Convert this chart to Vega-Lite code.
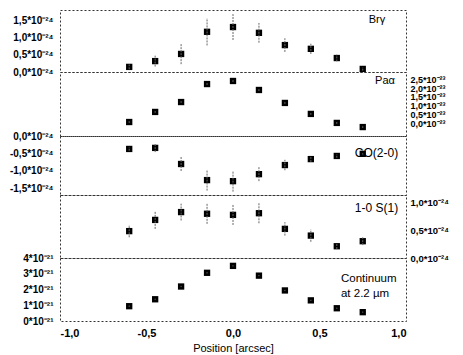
{
  "$schema": "https://vega.github.io/schema/vega-lite/v6.json",
  "padding": {"left": 8, "top": 9, "right": 0, "bottom": 0},
  "bounds": "flush",
  "spacing": 0,
  "config": {
    "view": {"stroke": "#333", "strokeDash": [2, 2], "strokeWidth": 1},
    "font": "Liberation Sans",
    "axis": {"labelFont": "Liberation Sans", "labelFontWeight": "bold", "labelFontSize": 10, "labelColor": "#000", "domain": false, "ticks": false, "grid": false, "labelOverlap": false, "labelBound": false}
  },
  "datasets": {
    "pts": [
      {"p": "Brg", "x": -0.6, "y": 0.15, "lo": 0.08, "hi": 0.22},
      {"p": "Brg", "x": -0.45, "y": 0.32, "lo": 0.16, "hi": 0.48},
      {"p": "Brg", "x": -0.3, "y": 0.53, "lo": 0.23, "hi": 0.83},
      {"p": "Brg", "x": -0.15, "y": 1.18, "lo": 0.78, "hi": 1.58},
      {"p": "Brg", "x": 0, "y": 1.32, "lo": 0.94, "hi": 1.7},
      {"p": "Brg", "x": 0.15, "y": 1.15, "lo": 0.86, "hi": 1.44},
      {"p": "Brg", "x": 0.3, "y": 0.79, "lo": 0.59, "hi": 0.99},
      {"p": "Brg", "x": 0.45, "y": 0.68, "lo": 0.53, "hi": 0.83},
      {"p": "Brg", "x": 0.6, "y": 0.41, "lo": 0.31, "hi": 0.51},
      {"p": "Brg", "x": 0.75, "y": 0.09, "lo": 0.04, "hi": 0.14},
      {"p": "Paa", "x": -0.6, "y": 0.11, "lo": 0.06, "hi": 0.16},
      {"p": "Paa", "x": -0.45, "y": 0.67, "lo": 0.62, "hi": 0.72},
      {"p": "Paa", "x": -0.3, "y": 1.22, "lo": 1.17, "hi": 1.27},
      {"p": "Paa", "x": -0.15, "y": 2.22, "lo": 2.17, "hi": 2.27},
      {"p": "Paa", "x": 0, "y": 2.39, "lo": 2.33, "hi": 2.45},
      {"p": "Paa", "x": 0.15, "y": 1.89, "lo": 1.83, "hi": 1.95},
      {"p": "Paa", "x": 0.3, "y": 1.17, "lo": 1.12, "hi": 1.22},
      {"p": "Paa", "x": 0.45, "y": 0.56, "lo": 0.51, "hi": 0.61},
      {"p": "Paa", "x": 0.6, "y": 0.06, "lo": 0.01, "hi": 0.11},
      {"p": "Paa", "x": 0.75, "y": -0.17, "lo": -0.22, "hi": -0.12},
      {"p": "CO", "x": -0.6, "y": -0.37, "lo": -0.42, "hi": -0.32},
      {"p": "CO", "x": -0.45, "y": -0.34, "lo": -0.46, "hi": -0.22},
      {"p": "CO", "x": -0.3, "y": -0.8, "lo": -1.0, "hi": -0.6},
      {"p": "CO", "x": -0.15, "y": -1.26, "lo": -1.56, "hi": -0.96},
      {"p": "CO", "x": 0, "y": -1.29, "lo": -1.59, "hi": -0.99},
      {"p": "CO", "x": 0.15, "y": -1.09, "lo": -1.29, "hi": -0.89},
      {"p": "CO", "x": 0.3, "y": -0.83, "lo": -0.98, "hi": -0.68},
      {"p": "CO", "x": 0.45, "y": -0.66, "lo": -0.74, "hi": -0.58},
      {"p": "CO", "x": 0.6, "y": -0.57, "lo": -0.62, "hi": -0.52},
      {"p": "CO", "x": 0.75, "y": -0.51, "lo": -0.55, "hi": -0.47},
      {"p": "S1", "x": -0.6, "y": 0.48, "lo": 0.37, "hi": 0.59},
      {"p": "S1", "x": -0.45, "y": 0.68, "lo": 0.52, "hi": 0.84},
      {"p": "S1", "x": -0.3, "y": 0.82, "lo": 0.67, "hi": 0.97},
      {"p": "S1", "x": -0.15, "y": 0.79, "lo": 0.61, "hi": 0.97},
      {"p": "S1", "x": 0, "y": 0.77, "lo": 0.59, "hi": 0.95},
      {"p": "S1", "x": 0.15, "y": 0.8, "lo": 0.62, "hi": 0.98},
      {"p": "S1", "x": 0.3, "y": 0.52, "lo": 0.4, "hi": 0.64},
      {"p": "S1", "x": 0.45, "y": 0.4, "lo": 0.29, "hi": 0.51},
      {"p": "S1", "x": 0.6, "y": 0.21, "lo": 0.16, "hi": 0.26},
      {"p": "S1", "x": 0.75, "y": 0.3, "lo": 0.23, "hi": 0.37},
      {"p": "Cont", "x": -0.6, "y": 0.94, "lo": 0.9, "hi": 0.98},
      {"p": "Cont", "x": -0.45, "y": 1.38, "lo": 1.34, "hi": 1.42},
      {"p": "Cont", "x": -0.3, "y": 2.19, "lo": 2.15, "hi": 2.23},
      {"p": "Cont", "x": -0.15, "y": 3.06, "lo": 3.02, "hi": 3.1},
      {"p": "Cont", "x": 0, "y": 3.5, "lo": 3.46, "hi": 3.54},
      {"p": "Cont", "x": 0.15, "y": 2.88, "lo": 2.84, "hi": 2.92},
      {"p": "Cont", "x": 0.3, "y": 1.94, "lo": 1.9, "hi": 1.98},
      {"p": "Cont", "x": 0.45, "y": 1.31, "lo": 1.27, "hi": 1.35},
      {"p": "Cont", "x": 0.6, "y": 0.81, "lo": 0.77, "hi": 0.85},
      {"p": "Cont", "x": 0.75, "y": 0.56, "lo": 0.52, "hi": 0.6}
    ]
  },
  "vconcat": [
    {
      "width": 346, "height": 62,
      "layer": [
        {
          "data": {"name": "pts"},
          "transform": [{"filter": "datum.p == 'Brg'"}],
          "mark": {"type": "point", "shape": "square", "filled": true, "color": "#000", "opacity": 1, "size": 40, "zindex": 2},
          "encoding": {
            "x": {"field": "x", "type": "quantitative", "scale": {"domain": [-1, 1]}, "axis": null},
            "y": {"field": "y", "type": "quantitative", "title": null, "scale": {"domain": [0, 1.82], "nice": false, "zero": false},
                  "axis": {"orient": "left", "title": null, "values": [0, 0.5, 1, 1.5], "tickCount": 20, "labelOverlap": false, "labelPadding": 7, "labelExpr": "replace(replace(format(datum.value,'.1f'),'.',','),'−','-') + '*10⁻²⁴'"}}
          }
        },
        {
          "data": {"name": "pts"},
          "transform": [{"filter": "datum.p == 'Brg'"}],
          "mark": {"type": "rule", "color": "#666", "strokeWidth": 1, "strokeDash": [2, 1], "zindex": 1},
          "encoding": {
            "x": {"field": "x", "type": "quantitative"},
            "y": {"field": "lo", "type": "quantitative", "title": null},
            "y2": {"field": "hi"}
          }
        },
        {
          "data": {"values": [{}]},
          "mark": {"type": "text", "align": "right", "baseline": "middle", "fontSize": 11, "font": "Liberation Sans"},
          "encoding": {"x": {"datum": 0.88}, "y": {"datum": 1.53}, "text": {"value": "Brγ"}}
        }
      ]
    },
    {
      "width": 346, "height": 64,
      "layer": [
        {
          "data": {"name": "pts"},
          "transform": [{"filter": "datum.p == 'Paa'"}],
          "mark": {"type": "point", "shape": "square", "filled": true, "color": "#000", "opacity": 1, "size": 40, "zindex": 2},
          "encoding": {
            "x": {"field": "x", "type": "quantitative", "scale": {"domain": [-1, 1]}, "axis": null},
            "y": {"field": "y", "type": "quantitative", "title": null, "scale": {"domain": [-0.667, 2.889], "nice": false, "zero": false},
                  "axis": {"orient": "right", "title": null, "values": [0, 0.5, 1, 1.5, 2, 2.5], "tickCount": 20, "labelOverlap": false, "labelFontSize": 9, "labelPadding": 4, "labelExpr": "replace(format(datum.value,'.1f'),'.',',') + '*10⁻²³'"}}
          }
        },
        {
          "data": {"name": "pts"},
          "transform": [{"filter": "datum.p == 'Paa'"}],
          "mark": {"type": "rule", "color": "#666", "strokeWidth": 1, "strokeDash": [2, 1], "zindex": 1},
          "encoding": {
            "x": {"field": "x", "type": "quantitative"},
            "y": {"field": "lo", "type": "quantitative", "title": null},
            "y2": {"field": "hi"}
          }
        },
        {
          "data": {"values": [{}]},
          "mark": {"type": "text", "align": "right", "baseline": "middle", "fontSize": 11, "font": "Liberation Sans"},
          "encoding": {"x": {"datum": 0.936}, "y": {"datum": 2.39}, "text": {"value": "Paα"}}
        }
      ]
    },
    {
      "width": 346, "height": 59,
      "layer": [
        {
          "data": {"name": "pts"},
          "transform": [{"filter": "datum.p == 'CO'"}],
          "mark": {"type": "point", "shape": "square", "filled": true, "color": "#000", "opacity": 1, "size": 40, "zindex": 2},
          "encoding": {
            "x": {"field": "x", "type": "quantitative", "scale": {"domain": [-1, 1]}, "axis": null},
            "y": {"field": "y", "type": "quantitative", "title": null, "scale": {"domain": [-1.686, 0], "nice": false, "zero": false},
                  "axis": {"orient": "left", "title": null, "values": [0, -0.5, -1, -1.5], "tickCount": 20, "labelOverlap": false, "labelPadding": 7, "labelExpr": "replace(replace(format(datum.value,'.1f'),'.',','),'−','-') + '*10⁻²⁴'"}}
          }
        },
        {
          "data": {"name": "pts"},
          "transform": [{"filter": "datum.p == 'CO'"}],
          "mark": {"type": "rule", "color": "#666", "strokeWidth": 1, "strokeDash": [2, 1], "zindex": 1},
          "encoding": {
            "x": {"field": "x", "type": "quantitative"},
            "y": {"field": "lo", "type": "quantitative", "title": null},
            "y2": {"field": "hi"}
          }
        },
        {
          "data": {"values": [{}]},
          "mark": {"type": "text", "align": "right", "baseline": "middle", "fontSize": 12, "font": "Liberation Sans"},
          "encoding": {"x": {"datum": 0.955}, "y": {"datum": -0.49}, "text": {"value": "CO(2-0)"}}
        }
      ]
    },
    {
      "width": 346, "height": 63,
      "layer": [
        {
          "data": {"name": "pts"},
          "transform": [{"filter": "datum.p == 'S1'"}],
          "mark": {"type": "point", "shape": "square", "filled": true, "color": "#000", "opacity": 1, "size": 40, "zindex": 2},
          "encoding": {
            "x": {"field": "x", "type": "quantitative", "scale": {"domain": [-1, 1]}, "axis": null},
            "y": {"field": "y", "type": "quantitative", "title": null, "scale": {"domain": [0, 1.125], "nice": false, "zero": false},
                  "axis": {"orient": "right", "title": null, "values": [0, 0.5, 1], "tickCount": 20, "labelOverlap": false, "labelFontSize": 9.5, "labelPadding": 4, "labelExpr": "replace(format(datum.value,'.1f'),'.',',') + '*10⁻²⁴'"}}
          }
        },
        {
          "data": {"name": "pts"},
          "transform": [{"filter": "datum.p == 'S1'"}],
          "mark": {"type": "rule", "color": "#666", "strokeWidth": 1, "strokeDash": [2, 1], "zindex": 1},
          "encoding": {
            "x": {"field": "x", "type": "quantitative"},
            "y": {"field": "lo", "type": "quantitative", "title": null},
            "y2": {"field": "hi"}
          }
        },
        {
          "data": {"values": [{}]},
          "mark": {"type": "text", "align": "right", "baseline": "middle", "fontSize": 12, "font": "Liberation Sans"},
          "encoding": {"x": {"datum": 0.955}, "y": {"datum": 0.89}, "text": {"value": "1-0 S(1)"}}
        }
      ]
    },
    {
      "width": 346, "height": 63,
      "layer": [
        {
          "data": {"name": "pts"},
          "transform": [{"filter": "datum.p == 'Cont'"}],
          "mark": {"type": "point", "shape": "square", "filled": true, "color": "#000", "opacity": 1, "size": 40, "zindex": 2},
          "encoding": {
            "x": {"field": "x", "type": "quantitative", "scale": {"domain": [-1, 1]},
                  "axis": {"values": [-1, -0.5, 0, 0.5, 1], "tickCount": 20, "labelFontSize": 11, "labelPadding": 6, "labelExpr": "replace(replace(format(datum.value,'.1f'),'.',','),'−','-')",
                           "title": "Position [arcsec]", "titleFontWeight": "normal", "titleFontSize": 11, "titlePadding": 4, "titleColor": "#000"}},
            "y": {"field": "y", "type": "quantitative", "title": null, "scale": {"domain": [0, 4.0], "nice": false, "zero": false},
                  "axis": {"orient": "left", "title": null, "values": [0, 1, 2, 3, 4], "tickCount": 20, "labelOverlap": false, "labelPadding": 7, "labelExpr": "format(datum.value,'.0f') + '*10⁻²¹'"}}
          }
        },
        {
          "data": {"name": "pts"},
          "transform": [{"filter": "datum.p == 'Cont'"}],
          "mark": {"type": "rule", "color": "#666", "strokeWidth": 1, "strokeDash": [2, 1], "zindex": 1},
          "encoding": {
            "x": {"field": "x", "type": "quantitative"},
            "y": {"field": "lo", "type": "quantitative", "title": null},
            "y2": {"field": "hi"}
          }
        },
        {
          "data": {"values": [{}]},
          "mark": {"type": "text", "align": "left", "baseline": "middle", "fontSize": 11.5, "lineHeight": 15, "font": "Liberation Sans"},
          "encoding": {"x": {"datum": 0.624}, "y": {"datum": 2.66}, "text": {"value": ["Continuum", "at 2.2 µm"]}}
        }
      ]
    }
  ]
}
